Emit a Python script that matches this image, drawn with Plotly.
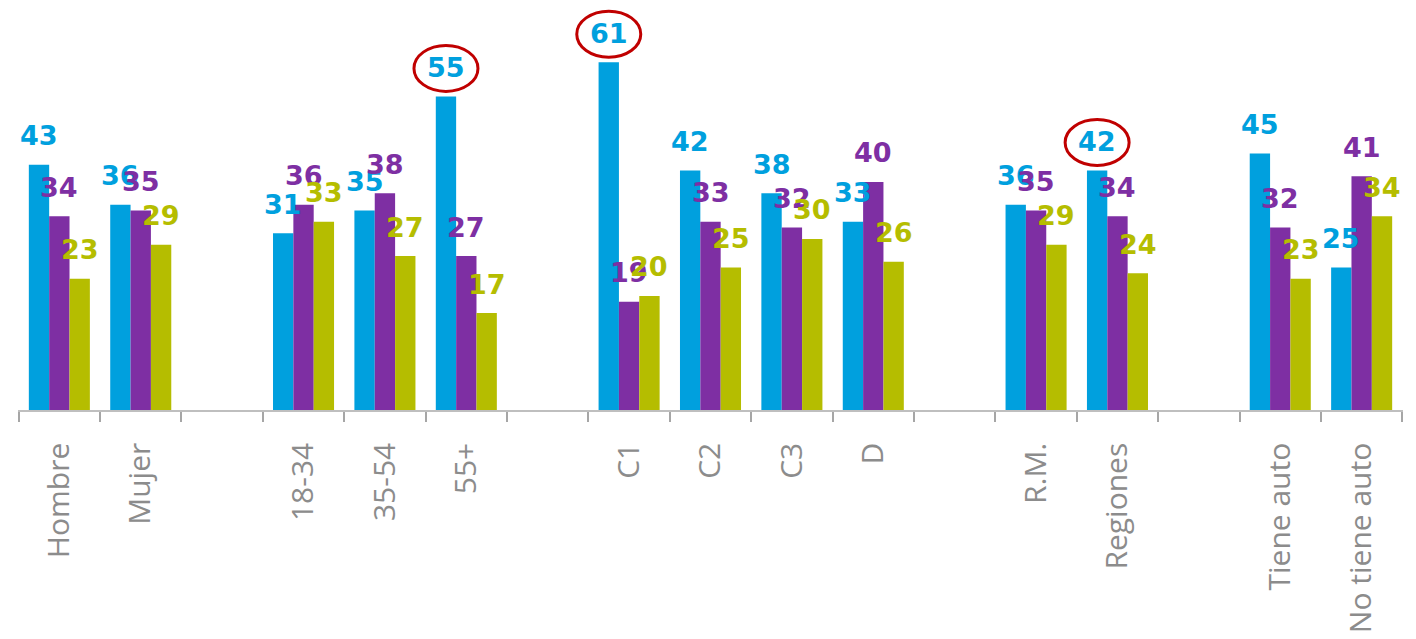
import plotly.graph_objects as go

categories = ["Hombre", "Mujer", " ", "18-34", "35-54", "55+", "  ",
              "C1", "C2", "C3", "D", "   ", "R.M.", "Regiones", "    ",
              "Tiene auto", "No tiene auto"]
serie_a = [43, 36, None, 31, 35, 55, None, 61, 42, 38, 33, None, 36, 42, None, 45, 25]
serie_b = [34, 35, None, 36, 38, 27, None, 19, 33, 32, 40, None, 35, 34, None, 32, 41]
serie_c = [23, 29, None, 33, 27, 17, None, 20, 25, 30, 26, None, 29, 24, None, 23, 34]
highlighted = ["55+", "C1", "Regiones"]

colors = ["#00A0DE", "#7E2FA3", "#B5BD00"]
series = [serie_a, serie_b, serie_c]
offsets = [-0.25, 0.0, 0.25]

fig = go.Figure()
for vals, col in zip(series, colors):
    fig.add_trace(go.Bar(x=categories, y=vals, marker=dict(color=col, line=dict(width=0)),
                         showlegend=False, hoverinfo="skip"))

annotations = []
for vals, col, off in zip(series, colors, offsets):
    for i, v in enumerate(vals):
        if v is None:
            continue
        annotations.append(dict(x=i + off, y=v, xref="x", yref="y", text=str(v),
                                showarrow=False, yshift=29, yanchor="middle",
                                font=dict(family="DejaVu Sans", size=27, color=col,
                                          weight="bold")))

shapes = []
for name in highlighted:
    i = categories.index(name)
    v = serie_a[i]
    shapes.append(dict(type="circle", xref="x", yref="y", xsizemode="pixel",
                       ysizemode="pixel", xanchor=i - 0.25, yanchor=v,
                       x0=-32, x1=32, y0=5, y1=51,
                       line=dict(color="#C00000", width=3)))

fig.update_layout(
    width=1408, height=631,
    margin=dict(l=10, r=13, t=0, b=229),
    paper_bgcolor="white", plot_bgcolor="white",
    barmode="group", bargap=0.25, bargroupgap=0,
    annotations=annotations, shapes=shapes,
    xaxis=dict(type="category", tickson="boundaries", ticks="outside", ticklen=10,
               tickcolor="#A6A6A6", tickwidth=1.5, showline=True, linecolor="#BFBFBF",
               linewidth=1.5, tickangle=-90, ticklabelstandoff=19,
               tickfont=dict(family="Open Sans", size=30, color="#8C8C8C"),
               showgrid=False, zeroline=False, fixedrange=True),
    yaxis=dict(range=[0, 70.5], visible=False, showgrid=False, zeroline=False),
)

fig.write_html("out.html")
